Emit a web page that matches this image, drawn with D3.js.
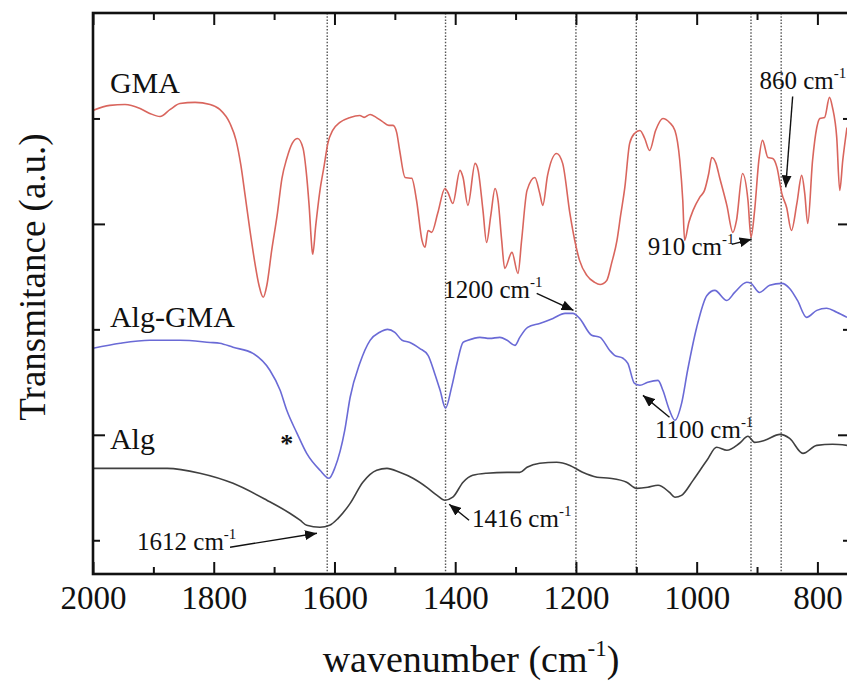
<!DOCTYPE html>
<html>
<head>
<meta charset="utf-8">
<script src="https://cdn.jsdelivr.net/npm/d3@7"></script>
<style>
  html, body { margin: 0; padding: 0; background: #fff; }
  svg { display: block; }
  text { font-family: "Liberation Serif", "Times New Roman", serif; fill: #111; }
</style>
</head>
<body>
<svg id="chart" width="847" height="684"></svg>
<script>
// FTIR spectra (transmittance, arbitrary units, offset per sample)
const gmaWavenumber = [2000,1972,1947,1922,1906,1889,1872,1856,1831,1806,1790,1773,1763,1755,1748,1740,1732,1725,1718,1712,1704,1695,1687,1679,1670,1661,1652,1647,1642,1637,1636,1631,1624,1617,1611,1603,1591,1574,1558,1551,1541,1531,1521,1510,1503,1497,1492,1483,1472,1464,1455,1450,1445,1439,1429,1417,1412,1404,1392,1387,1379,1367,1362,1354,1348,1341,1334,1329,1323,1318,1306,1296,1290,1281,1268,1260,1255,1247,1232,1222,1210,1202,1194,1182,1169,1160,1149,1141,1132,1126,1119,1111,1103,1094,1086,1078,1068,1056,1045,1036,1028,1023,1020,1013,1006,995,987,980,975,968,962,950,940,934,924,915,910,904,897,891,882,874,867,859,851,843,834,826,821,816,808,801,796,788,780,775,768,763,758,751];
const gmaTransmittance = [2.538,2.562,2.566,2.547,2.524,2.509,2.543,2.571,2.576,2.566,2.543,2.476,2.396,2.277,2.135,1.969,1.818,1.709,1.652,1.709,1.874,2.040,2.216,2.310,2.382,2.405,2.358,2.254,2.088,1.874,1.856,1.993,2.159,2.277,2.382,2.443,2.481,2.505,2.514,2.505,2.519,2.505,2.486,2.467,2.467,2.434,2.348,2.220,2.216,2.111,1.922,1.889,1.969,1.960,2.050,2.168,2.149,2.097,2.254,2.220,2.088,2.287,2.254,2.064,1.912,2.040,2.168,2.111,1.922,1.789,1.865,1.765,1.922,2.159,2.220,2.145,2.088,2.230,2.334,2.287,2.050,1.922,1.827,1.756,1.723,1.713,1.732,1.813,1.922,2.040,2.173,2.382,2.429,2.443,2.405,2.348,2.443,2.500,2.481,2.443,2.301,2.111,1.922,2.007,2.064,2.126,2.159,2.239,2.315,2.287,2.220,2.088,1.960,2.017,2.239,2.111,1.936,2.064,2.301,2.396,2.315,2.310,2.268,2.145,2.078,1.969,2.097,2.230,2.145,2.002,2.301,2.457,2.500,2.505,2.600,2.552,2.410,2.159,2.301,2.457];

const algGmaWavenumber = [2000,1955,1906,1856,1806,1790,1768,1735,1707,1690,1679,1662,1646,1624,1609,1599,1583,1574,1558,1541,1525,1512,1500,1488,1475,1459,1445,1434,1425,1416,1406,1397,1387,1379,1359,1343,1326,1314,1301,1293,1280,1260,1238,1218,1205,1194,1174,1160,1144,1136,1122,1114,1103,1094,1081,1064,1056,1045,1036,1025,1015,1000,983,970,950,937,917,910,896,879,859,846,833,818,801,785,768,751];
const algGmaTransmittance = [1.410,1.434,1.448,1.448,1.438,1.434,1.415,1.386,1.306,1.211,1.116,1.007,0.912,0.832,0.794,0.846,1.021,1.178,1.339,1.448,1.486,1.500,1.486,1.448,1.438,1.410,1.377,1.291,1.211,1.126,1.225,1.339,1.438,1.448,1.462,1.457,1.462,1.448,1.424,1.462,1.509,1.528,1.552,1.576,1.576,1.552,1.472,1.462,1.400,1.377,1.363,1.339,1.244,1.235,1.249,1.258,1.211,1.116,1.069,1.149,1.306,1.509,1.661,1.685,1.637,1.675,1.723,1.718,1.675,1.709,1.718,1.694,1.637,1.557,1.590,1.600,1.581,1.557];

const algWavenumber = [2000,1934,1877,1823,1768,1712,1674,1657,1646,1624,1608,1594,1574,1553,1530,1513,1492,1470,1447,1430,1417,1404,1387,1371,1348,1314,1293,1281,1260,1232,1210,1189,1165,1144,1116,1099,1081,1064,1045,1036,1025,1006,983,967,950,929,915,904,887,862,846,824,801,775,751];
const algTransmittance = [0.841,0.841,0.841,0.818,0.770,0.690,0.628,0.595,0.571,0.562,0.571,0.604,0.675,0.775,0.832,0.841,0.822,0.794,0.751,0.713,0.690,0.704,0.775,0.808,0.818,0.822,0.822,0.846,0.865,0.870,0.855,0.822,0.799,0.794,0.775,0.746,0.751,0.761,0.727,0.704,0.713,0.784,0.879,0.941,0.927,0.960,0.993,0.964,0.974,1.002,0.983,0.912,0.950,0.955,0.950];

const seriesNames = ["GMA", "Alg-GMA", "Alg"];
const seriesColors = ["#d9655d", "#6a6ad6", "#404040"];

// marked absorption bands (dotted guides)
const bandWavenumbers = [1612, 1416, 1200, 1100, 910, 860];

// axis ticks
const xMajorTicks = [2000, 1800, 1600, 1400, 1200, 1000, 800];
const xMinorTicks = [1900, 1700, 1500, 1300, 1100, 900];
const yMajorTicks = [1, 2];
const yMinorTicks = [0.5, 1.5, 2.5];

const svg = d3.select("#chart");
const plotLeft = 93, plotRight = 850, plotTop = 13, plotBottom = 574;

const x = d3.scaleLinear().domain([2000, 746]).range([plotLeft, plotRight]);
const y = d3.scaleLinear().domain([0.34, 3.0]).range([plotBottom, plotTop]);

const defs = svg.append("defs");

// dotted band guides
svg.append("g").selectAll("line").data(bandWavenumbers).join("line")
  .attr("x1", d => x(d)).attr("x2", d => x(d))
  .attr("y1", plotTop).attr("y2", plotBottom)
  .attr("stroke", "#555").attr("stroke-width", 1.4)
  .attr("stroke-dasharray", "1.5,1.7");

// spectra
const series = [
  { wn: gmaWavenumber, t: gmaTransmittance },
  { wn: algGmaWavenumber, t: algGmaTransmittance },
  { wn: algWavenumber, t: algTransmittance }
];
const line = d3.line()
  .x(d => x(d[0])).y(d => y(d[1]))
  .curve(d3.curveMonotoneX);

defs.append("clipPath").attr("id", "plot-clip")
  .append("rect").attr("x", plotLeft).attr("y", plotTop)
  .attr("width", plotRight - plotLeft).attr("height", plotBottom - plotTop);

svg.append("g").attr("clip-path", "url(#plot-clip)")
  .selectAll("path").data(series).join("path")
  .attr("d", s => line(s.wn.map((w, i) => [w, s.t[i]])))
  .attr("fill", "none")
  .attr("stroke", (s, i) => seriesColors[i])
  .attr("stroke-width", 1.6)
  .attr("stroke-linejoin", "round");

// axes: ticks point inward on all four sides
function styleAxis(g) {
  g.select(".domain").remove();
  g.selectAll(".tick line").attr("stroke", "#111").attr("stroke-width", 2);
}
const bottomMajor = svg.append("g").attr("transform", `translate(0,${plotBottom})`)
  .call(d3.axisBottom(x).tickValues(xMajorTicks).tickSize(-12).tickFormat(d3.format("d")));
styleAxis(bottomMajor);
bottomMajor.selectAll(".tick text")
  .attr("dy", null).attr("y", 35)
  .style("font-family", "'Liberation Serif', serif")
  .style("font-size", "33px").attr("fill", "#111");
svg.append("g").attr("transform", `translate(0,${plotBottom})`)
  .call(d3.axisBottom(x).tickValues(xMinorTicks).tickSize(-7).tickFormat(""))
  .call(styleAxis);
svg.append("g").attr("transform", `translate(0,${plotTop})`)
  .call(d3.axisTop(x).tickValues(xMajorTicks).tickSize(-12).tickFormat(""))
  .call(styleAxis);
svg.append("g").attr("transform", `translate(0,${plotTop})`)
  .call(d3.axisTop(x).tickValues(xMinorTicks).tickSize(-7).tickFormat(""))
  .call(styleAxis);
svg.append("g").attr("transform", `translate(${plotLeft},0)`)
  .call(d3.axisLeft(y).tickValues(yMajorTicks).tickSize(-12).tickFormat(""))
  .call(styleAxis);
svg.append("g").attr("transform", `translate(${plotLeft},0)`)
  .call(d3.axisLeft(y).tickValues(yMinorTicks).tickSize(-7).tickFormat(""))
  .call(styleAxis);
svg.append("g").attr("transform", `translate(${plotRight},0)`)
  .call(d3.axisRight(y).tickValues(yMajorTicks).tickSize(-12).tickFormat(""))
  .call(styleAxis);
svg.append("g").attr("transform", `translate(${plotRight},0)`)
  .call(d3.axisRight(y).tickValues(yMinorTicks).tickSize(-7).tickFormat(""))
  .call(styleAxis);

// frame
svg.append("rect")
  .attr("x", plotLeft).attr("y", plotTop)
  .attr("width", plotRight - plotLeft).attr("height", plotBottom - plotTop)
  .attr("fill", "none").attr("stroke", "#111").attr("stroke-width", 2.6);

// text with a "-1" superscript
function unitText(g, px, py, main, size, tail) {
  const t = g.append("text").attr("x", px).attr("y", py)
    .style("font-size", size + "px");
  t.append("tspan").text(main);
  t.append("tspan").text("-1")
    .style("font-size", Math.round(size * 0.6) + "px")
    .attr("dy", -Math.round(size * 0.42));
  if (tail) {
    t.append("tspan").text(tail).attr("dy", Math.round(size * 0.42));
  }
  return t;
}

// axis titles
unitText(svg, 471, 672, "wavenumber (cm", 38, ")")
  .attr("text-anchor", "middle");
svg.append("text")
  .attr("transform", "translate(45,277) rotate(-90)")
  .attr("text-anchor", "middle")
  .style("font-size", "37px")
  .text("Transmitance (a.u.)");

// sample labels
const seriesLabelPos = [[1972, 2.619], [1972, 1.510], [1972, 0.931]];
svg.append("g").selectAll("text").data(seriesNames).join("text")
  .attr("x", (d, i) => x(seriesLabelPos[i][0]))
  .attr("y", (d, i) => y(seriesLabelPos[i][1]))
  .style("font-size", "30px")
  .text(d => d);

// asterisk beside the Alg-GMA carbonyl shoulder
svg.append("text")
  .attr("x", x(1679)).attr("y", y(0.917))
  .attr("text-anchor", "middle")
  .style("font-size", "26px").style("font-weight", "bold")
  .text("*");

// band annotations: label anchor, arrow tail and arrow tip in data units
const annotations = [
  { label: "1612 cm", text: [1927, 0.453], from: [1773, 0.467], to: [1629, 0.533] },
  { label: "1416 cm", text: [1372, 0.562], from: [1377, 0.595], to: [1410, 0.671] },
  { label: "1200 cm", text: [1420, 1.647], from: [1265, 1.671], to: [1204, 1.590] },
  { label: "1100 cm", text: [1069, 0.983], from: [1045, 1.083], to: [1089, 1.187] },
  { label: "910 cm",  text: [1081, 1.851], from: [942, 1.903],  to: [909, 1.927] },
  { label: "860 cm",  text: [896, 2.642],  from: [841, 2.604],  to: [852.5, 2.173] }
];

defs.append("marker")
  .attr("id", "arrowhead")
  .attr("viewBox", "0 0 12 10")
  .attr("refX", 12).attr("refY", 5)
  .attr("markerWidth", 12).attr("markerHeight", 10)
  .attr("markerUnits", "userSpaceOnUse")
  .attr("orient", "auto")
  .append("path").attr("d", "M0,0 L12,5 L0,10 Z").attr("fill", "#111");

const ann = svg.append("g");
annotations.forEach(a => {
  ann.append("line")
    .attr("x1", x(a.from[0])).attr("y1", y(a.from[1]))
    .attr("x2", x(a.to[0])).attr("y2", y(a.to[1]))
    .attr("stroke", "#111").attr("stroke-width", 1.4)
    .attr("marker-end", "url(#arrowhead)");
  unitText(ann, x(a.text[0]), y(a.text[1]), a.label, 25);
});
</script>
</body>
</html>
